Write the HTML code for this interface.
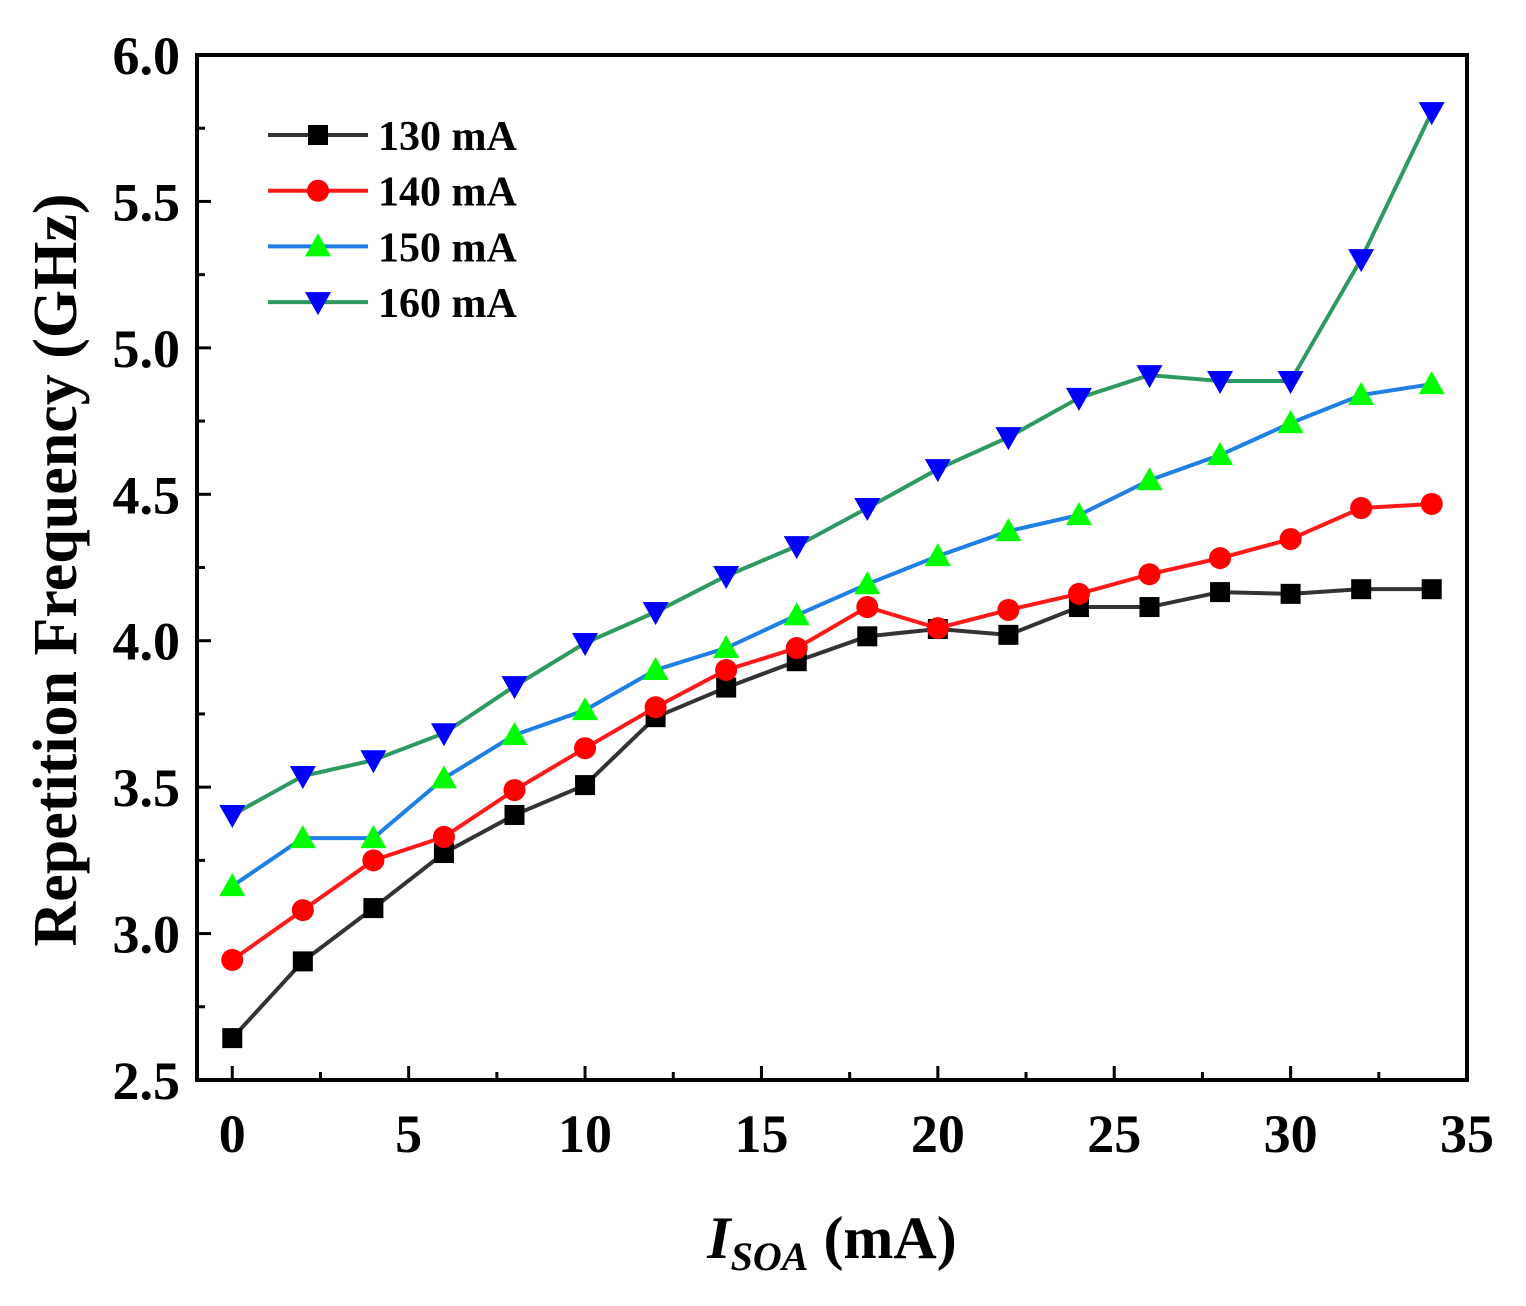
<!DOCTYPE html>
<html><head><meta charset="utf-8"><style>body{margin:0;background:#fff}svg{display:block}</style></head>
<body>
<svg id="chart" width="1526" height="1306" xmlns="http://www.w3.org/2000/svg" font-family="Liberation Serif, serif" font-weight="bold"></svg>
<script>
const xValues=[0,2,4,6,8,10,12,14,16,18,20,22,24,26,28,30,32,34];
const s130=[2.643,2.905,3.087,3.275,3.405,3.507,3.739,3.84,3.93,4.015,4.04,4.02,4.115,4.115,4.166,4.16,4.176,4.176];
const s140=[2.91,3.08,3.25,3.33,3.49,3.633,3.773,3.90,3.975,4.115,4.043,4.105,4.16,4.227,4.282,4.347,4.453,4.467];
const s150=[3.162,3.326,3.326,3.53,3.678,3.763,3.90,3.975,4.087,4.193,4.289,4.374,4.429,4.548,4.634,4.743,4.839,4.876];
const s160=[3.405,3.538,3.592,3.684,3.845,3.992,4.098,4.221,4.323,4.453,4.586,4.695,4.829,4.907,4.887,4.887,5.303,5.805];
const xTicks=[0,5,10,15,20,25,30,35];
const yTicks=[2.5,3.0,3.5,4.0,4.5,5.0,5.5,6.0];
const legendLabels=["130 mA","140 mA","150 mA","160 mA"];
const L=197,R=1467,T=55,B=1080,X0=-1,X1=35,Y0=2.5,Y1=6.0;
const sx=v=>L+(v-X0)/(X1-X0)*(R-L);
const sy=v=>B-(v-Y0)/(Y1-Y0)*(B-T);
const svg=document.getElementById('chart');
const NS='http://www.w3.org/2000/svg';
function mk(tag,attrs,parent){const e=document.createElementNS(NS,tag);for(const k in attrs)e.setAttribute(k,attrs[k]);(parent||svg).appendChild(e);return e;}
for(let i=0;i<xTicks.length;i++){const v=xTicks[i],x=sx(v);
 const t=mk('line',{x1:x,x2:x,y1:B,y2:B-14,stroke:'#000','stroke-width':3});
 
 if(i<xTicks.length-1){const m=mk('line',{x1:sx(v+2.5),x2:sx(v+2.5),y1:B,y2:B-8,stroke:'#000','stroke-width':3});}
 const lb=mk('text',{x:x,y:1152,'font-size':54,'text-anchor':'middle'});lb.textContent=v;
 }
for(let i=0;i<yTicks.length;i++){const v=yTicks[i],y=sy(v);
 const t=mk('line',{x1:L,x2:L+14,y1:y,y2:y,stroke:'#000','stroke-width':3});
 
 if(i<yTicks.length-1){const m=mk('line',{x1:L,x2:L+8,y1:sy(v+0.25),y2:sy(v+0.25),stroke:'#000','stroke-width':3});}
 const lb=mk('text',{x:180,y:y+19,'font-size':54,'text-anchor':'end'});lb.textContent=v.toFixed(1);
 }
const fr=mk('rect',{x:L,y:T,width:R-L,height:B-T,fill:'none',stroke:'#000','stroke-width':4});

const series=[[s130,'#333333','#000000','square'],[s140,'#ff1a1a','#ff0000','circle'],[s150,'#1f7fe6','#00ff00','up'],[s160,'#2e9960','#0000ff','down']];
function marker(type,x,y,fill,g){
 if(type==='square')return mk('rect',{x:x-10,y:y-10,width:20,height:20,fill:fill},g);
 if(type==='circle')return mk('circle',{cx:x,cy:y,r:11,fill:fill},g);
 if(type==='up')return mk('polygon',{points:`${x},${y-13} ${x-13},${y+10} ${x+13},${y+10}`,fill:fill},g);
 return mk('polygon',{points:`${x},${y+13} ${x-13},${y-10} ${x+13},${y-10}`,fill:fill},g);}
series.forEach((s,i)=>{const g=mk('g',{});
 
 const pts=xValues.map((x,j)=>sx(x)+','+sy(s[0][j])).join(' ');
 const pl=mk('polyline',{points:pts,fill:'none',stroke:s[1],'stroke-width':4},g);
 
 xValues.forEach((x,j)=>{const m=marker(s[3],sx(x),sy(s[0][j]),s[2],g);});
 const ly=135+i*55.7;
 const lg=mk('g',{},svg);
 mk('line',{x1:268,x2:368,y1:ly,y2:ly,stroke:s[1],'stroke-width':4},lg);
 marker(s[3],318,ly,s[2],lg);
 const t=mk('text',{x:378,y:ly+15,'font-size':42},lg);t.textContent=legendLabels[i];
});
const yt=mk('text',{x:0,y:0,'font-size':62,'text-anchor':'middle',transform:'translate(76,570) rotate(-90)'});
yt.textContent='Repetition Frequency (GHz)';
const xt=mk('text',{x:832,y:1258,'font-size':60,'text-anchor':'middle'});

xt.innerHTML='<tspan font-style="italic">I</tspan><tspan font-style="italic" font-size="40" dy="12">SOA</tspan><tspan dy="-12"> (mA)</tspan>';
</script>
</body></html>
